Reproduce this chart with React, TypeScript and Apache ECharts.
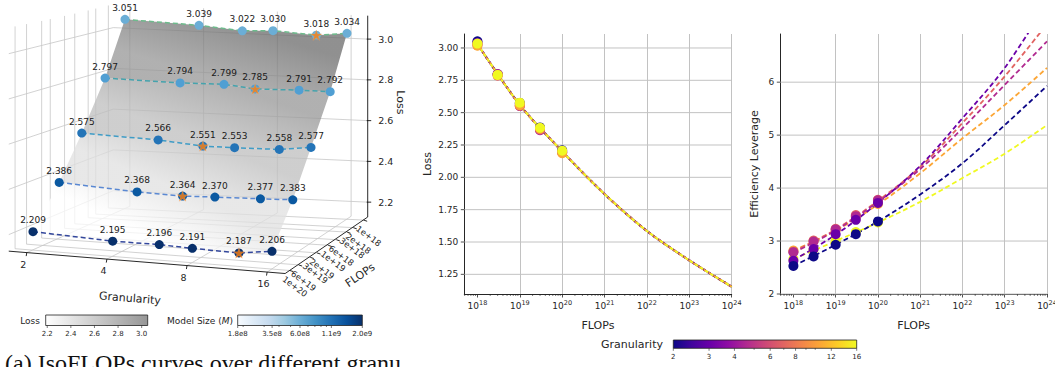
import React, { useEffect, useRef } from "react";
import * as echarts from "echarts";

// ---------------- data ----------------
const granularities = [2, 4, 6, 8, 12, 16];
const flopsBudgets = [1e18, 3e18, 1e19, 3e19, 1e20];
// isoLoss[flopsIndex][granularityIndex]
const isoLoss = [
  [3.051, 3.039, 3.022, 3.03, 3.018, 3.034],
  [2.797, 2.794, 2.799, 2.785, 2.791, 2.792],
  [2.575, 2.566, 2.551, 2.553, 2.558, 2.577],
  [2.386, 2.368, 2.364, 2.37, 2.377, 2.383],
  [2.209, 2.195, 2.196, 2.191, 2.187, 2.206],
];
const granularityTicks3d = [2, 4, 8, 16];
const flopsTicks3d = [1e18, 2e18, 3e18, 6e18, 1e19, 2e19, 3e19, 6e19, 1e20];
const flopsTickLabels3d = ["1e+18", "2e+18", "3e+18", "6e+18", "1e+19", "2e+19", "3e+19", "6e+19", "1e+20"];
const lossTicks3d = [2.2, 2.4, 2.6, 2.8, 3.0];

// fitted curves (FLOPs exponent -> value)
const fitExponents = [18, 19, 20, 21, 22, 23, 24];
const lossFit = [3.03, 2.56, 2.2, 1.87, 1.585, 1.358, 1.154];
// efficiency leverage per granularity (rows follow granularities)
const leverageObserved = [
  [2.53, 2.71, 2.93, 3.13, 3.37],
  [2.63, 2.85, 3.13, 3.4, 3.72],
  [2.79, 2.99, 3.22, 3.47, 3.77],
  [2.8, 3.01, 3.23, 3.49, 3.78],
  [2.82, 3.0, 3.21, 3.46, 3.7],
  [2.66, 2.84, 3.01, 3.17, 3.35],
];
const leverageFit = [
  [2.53, 2.93, 3.37, 3.88, 4.47, 5.19, 5.93],
  [2.64, 3.12, 3.72, 4.42, 5.32, 6.27, 7.5],
  [2.78, 3.2, 3.74, 4.36, 5.13, 5.95, 6.77],
  [2.8, 3.22, 3.76, 4.4, 5.23, 6.11, 7.1],
  [2.82, 3.2, 3.69, 4.28, 4.94, 5.57, 6.27],
  [2.66, 3.0, 3.35, 3.74, 4.19, 4.65, 5.19],
];

const xTickExponents = [18, 19, 20, 21, 22, 23, 24];
const lossYTicks = [1.25, 1.5, 1.75, 2.0, 2.25, 2.5, 2.75, 3.0];
const leverageYTicks = [2, 3, 4, 5, 6];
const minorDecades = [17, 18, 19, 20, 21, 22, 23];
const minorMultipliers = [2, 3, 4, 5, 6, 7, 8, 9];

const granularityBarTicks = [2, 3, 4, 6, 8, 12, 16];
const granularityBarMinor = [5, 7, 9, 10];
const lossBarTicks = [2.2, 2.4, 2.6, 2.8, 3.0];
const modelSizeBarTicks = [1.8e8, 3.5e8, 6.0e8, 1.1e9, 2.0e9];
const modelSizeBarLabels = ["1.8e8", "3.5e8", "6.0e8", "1.1e9", "2.0e9"];
const modelSizeBarMinor = [2e8, 3e8, 4e8, 5e8, 7e8, 8e8, 9e8, 1e9];

// ---------------- styles ----------------
const FONT = "DejaVu Sans";
const TEXT = "#262626";
const AXIS = "#262626";
const GRID = "#c2c2c2";
const GRID3D = "#c6c6c6";
const granularityColors = ["#0d0887", "#6a00a8", "#b12a90", "#e16462", "#fca636", "#f0f921"];
const rowLineColors = ["#6dbb8c", "#45a3ad", "#3f9cc6", "#5a88d2", "#33479c"];
const rowMarkerColors = ["#6baed6", "#509fd3", "#2474b7", "#0b59a1", "#08306b"];
const plasmaStops = ["#0d0887", "#41049d", "#6a00a8", "#8f0da4", "#b12a90", "#cc4778", "#e16462", "#f2844b", "#fca636", "#fcce25", "#f0f921"];
const bluesStops = ["#f7fbff", "#deebf7", "#c6dbef", "#9ecae1", "#6baed6", "#4292c6", "#2171b5", "#08519c", "#08306b"];
const greyStops = ["#ffffff", "#969696"];

const X_MIN = 17.69;
const X_MAX = 24;

// ---------------- 3D projection (camera model of the left panel) ----------------
const MU = 0.075;
const MV = 0.06;
const ZMIN = 2.127;
const ZMAX = 3.115;
const uOf = (g: number) => (Math.log2(g) - 1) / 3;
const vOf = (f: number) => (20 - Math.log10(f)) / 2;
function proj(u: number, v: number, z: number): [number, number] {
  const xa = 33 + 103 * v - 11 * v * v;
  const xb = 272 + 81 * v - 6 * v * v;
  const ya = 233.7 - 39.9 * v;
  const yb = 252.65 - 48.35 * v;
  const s = 225 - 20 * v;
  return [xa + (xb - xa) * u, ya + (yb - ya) * u - (z - 2.2) * s];
}
const add = (p: [number, number], dx: number, dy: number): [number, number] => [p[0] + dx, p[1] + dy];

function surfaceColor(z: number) {
  const t = Math.max(0, Math.min(1.2, (z - 2.2) / 0.85));
  const l = Math.round(255 - t * 151);
  return `rgb(${l},${l},${l})`;
}

const P3 = { xAxisIndex: 2, yAxisIndex: 2, coordinateSystem: "cartesian2d" };

function segSeries(segs: number[][], color: string, width: number, z: number) {
  return {
    type: "custom",
    ...P3,
    silent: true,
    clip: false,
    z,
    data: segs,
    renderItem: (_p: any, api: any) => {
      const a = api.coord([api.value(0), api.value(1)]);
      const b = api.coord([api.value(2), api.value(3)]);
      return {
        type: "line",
        shape: { x1: a[0], y1: a[1], x2: b[0], y2: b[1] },
        style: { stroke: color, lineWidth: width },
      };
    },
  };
}

type TextItem = { pos: [number, number]; text: string; size: number; rotation?: number; align?: string };
function textSeries(items: TextItem[]) {
  return {
    type: "custom",
    ...P3,
    silent: true,
    clip: false,
    z: 8,
    data: items.map((it) => it.pos),
    renderItem: (params: any, api: any) => {
      const it = items[params.dataIndex];
      const p = api.coord([api.value(0), api.value(1)]);
      return {
        type: "text",
        x: p[0],
        y: p[1],
        rotation: it.rotation || 0,
        style: {
          text: it.text,
          fontSize: it.size,
          fontFamily: FONT,
          fill: TEXT,
          align: it.align || "center",
          verticalAlign: "middle",
        },
      };
    },
  };
}

function build3dSeries() {
  const U0 = -MU, U1 = 1 + MU, V0 = -MV, V1 = 1 + MV;
  const grid: number[][] = [];
  const seg = (a: [number, number], b: [number, number]) => [a[0], a[1], b[0], b[1]];
  flopsTicks3d.forEach((f) => {
    const v = vOf(f);
    grid.push(seg(proj(U0, v, ZMIN), proj(U0, v, ZMAX)));
    grid.push(seg(proj(U0, v, ZMIN), proj(U1, v, ZMIN)));
  });
  granularityTicks3d.forEach((g) => {
    const u = uOf(g);
    grid.push(seg(proj(u, V1, ZMIN), proj(u, V1, ZMAX)));
    grid.push(seg(proj(u, V0, ZMIN), proj(u, V1, ZMIN)));
  });
  lossTicks3d.forEach((z) => {
    grid.push(seg(proj(U0, V0, z), proj(U0, V1, z)));
    grid.push(seg(proj(U0, V1, z), proj(U1, V1, z)));
  });

  const axes: number[][] = [
    seg(proj(U0, V0, ZMIN), proj(U1, V0, ZMIN)),
    seg(proj(U1, V0, ZMIN), proj(U1, V1, ZMIN)),
    seg(proj(U1, V1, ZMIN), proj(U1, V1, ZMAX)),
  ];
  granularityTicks3d.forEach((g) => {
    const p = proj(uOf(g), V0, ZMIN);
    axes.push(seg(p, add(p, -0.6, 3.5)));
  });
  flopsTicks3d.forEach((f) => {
    const p = proj(U1, vOf(f), ZMIN);
    axes.push(seg(p, add(p, 3.5, 1.2)));
  });
  lossTicks3d.forEach((z) => {
    const p = proj(U1, V1, z);
    axes.push(seg(add(p, -1, 0), add(p, 3.5, 0)));
  });

  // surface bands between consecutive FLOPs rows
  const bandItems = [0, 1, 2, 3].map((r) => {
    const p = proj(uOf(granularities[0]), vOf(flopsBudgets[r]), isoLoss[r][0]);
    return [p[0], p[1], r];
  });
  const surface = {
    type: "custom",
    ...P3,
    silent: true,
    clip: false,
    z: 2,
    data: bandItems,
    renderItem: (_p: any, api: any) => {
      const r = api.value(2);
      const top = granularities.map((g, c) => api.coord(proj(uOf(g), vOf(flopsBudgets[r]), isoLoss[r][c])));
      const bot = granularities.map((g, c) => api.coord(proj(uOf(g), vOf(flopsBudgets[r + 1]), isoLoss[r + 1][c])));
      const avg = (arr: number[][], k: number) => arr.reduce((s, q) => s + q[k], 0) / arr.length;
      const lt = isoLoss[r].reduce((s, q) => s + q, 0) / isoLoss[r].length;
      const lb = isoLoss[r + 1].reduce((s, q) => s + q, 0) / isoLoss[r + 1].length;
      const grad = new echarts.graphic.LinearGradient(
        avg(top, 0), avg(top, 1), avg(bot, 0), avg(bot, 1),
        [{ offset: 0, color: surfaceColor(lt) }, { offset: 1, color: surfaceColor(lb) }],
        true
      );
      return {
        type: "polygon",
        shape: { points: [...top, ...bot.slice().reverse()] },
        style: { fill: grad, opacity: 0.75 },
      };
    },
  };

  const rowData = (r: number) =>
    granularities.map((g, c) => {
      const p = proj(uOf(g), vOf(flopsBudgets[r]), isoLoss[r][c]);
      return [p[0], p[1], isoLoss[r][c]];
    });

  const rowLines = isoLoss.map((_row, r) => ({
    type: "line",
    ...P3,
    silent: true,
    z: 3,
    data: rowData(r),
    symbol: "none",
    lineStyle: { color: rowLineColors[r], width: 1.5, type: [5, 3] },
  }));

  const rowPoints = isoLoss.map((_row, r) => ({
    type: "scatter",
    ...P3,
    silent: true,
    z: 4,
    data: rowData(r),
    symbol: "circle",
    symbolSize: 9,
    itemStyle: { color: rowMarkerColors[r], opacity: 1 },
    label: {
      show: true,
      position: "top",
      distance: 2.5,
      formatter: (p: any) => Number(p.value[2]).toFixed(3),
      fontSize: 9,
      fontFamily: FONT,
      color: "#1a1a1a",
    },
  }));

  const starData = isoLoss.map((row, r) => {
    let best = 0;
    row.forEach((l, c) => {
      if (l < row[best]) best = c;
    });
    const p = proj(uOf(granularities[best]), vOf(flopsBudgets[r]), row[best]);
    return [p[0], p[1], row[best]];
  });
  const stars = {
    type: "scatter",
    ...P3,
    silent: true,
    z: 5,
    data: starData,
    symbol:
      "path://M0,-10L2.245,-3.09L9.511,-3.09L3.633,1.18L5.878,8.09L0,3.82L-5.878,8.09L-3.633,1.18L-9.511,-3.09L-2.245,-3.09Z",
    symbolSize: [11, 10.5],
    itemStyle: { color: "#ff7f0e", borderColor: "#ffb070", borderWidth: 0.3 },
  };

  const texts: TextItem[] = [];
  granularityTicks3d.forEach((g) => {
    texts.push({ pos: add(proj(uOf(g), V0, ZMIN), -3.5, 11.5), text: String(g), size: 9.5 });
  });
  flopsTicks3d.forEach((f, i) => {
    texts.push({ pos: add(proj(U1, vOf(f), ZMIN), 5, 16), text: flopsTickLabels3d[i], size: 8.5, rotation: -0.63 });
  });
  lossTicks3d.forEach((z) => {
    texts.push({ pos: add(proj(U1, V1, z), 18, 0), text: z.toFixed(1), size: 9.5 });
  });
  texts.push({ pos: add(proj(0.5, V0, ZMIN), -17, 36), text: "Granularity", size: 11, rotation: -0.08 });
  texts.push({ pos: add(proj(U1, 0.5, ZMIN), 32, 30), text: "FLOPs", size: 11, rotation: 0.6 });
  texts.push({ pos: add(proj(U1, V1, (ZMIN + ZMAX) / 2), 33, -14), text: "Loss", size: 11, rotation: -Math.PI / 2 });

  return [
    segSeries(grid, GRID3D, 0.8, 1),
    surface,
    ...rowLines,
    ...rowPoints,
    stars,
    segSeries(axes, "#111111", 0.9, 6),
    textSeries(texts),
  ];
}

// ---------------- 2D panels helpers ----------------
function yGridSeries(idx: number, ticks: number[], fmt: (v: number) => string) {
  return {
    type: "custom",
    xAxisIndex: idx,
    yAxisIndex: idx,
    silent: true,
    clip: false,
    z: 1,
    data: ticks.map((t) => [X_MIN, t]),
    renderItem: (_p: any, api: any) => {
      const v = api.value(1);
      const a = api.coord([X_MIN, v]);
      const b = api.coord([X_MAX, v]);
      return {
        type: "group",
        children: [
          { type: "line", shape: { x1: a[0], y1: a[1], x2: b[0], y2: b[1] }, style: { stroke: GRID, lineWidth: 1 } },
          { type: "line", shape: { x1: a[0] - 3.5, y1: a[1], x2: a[0], y2: a[1] }, style: { stroke: AXIS, lineWidth: 0.8 } },
          {
            type: "text",
            x: a[0] - 6,
            y: a[1],
            style: { text: fmt(v), fontSize: 9, fontFamily: FONT, fill: TEXT, align: "right", verticalAlign: "middle" },
          },
        ],
      };
    },
  };
}

function minorTickSeries(idx: number, yMin: number) {
  const pos: number[][] = [];
  minorDecades.forEach((d) =>
    minorMultipliers.forEach((k) => {
      const x = d + Math.log10(k);
      if (x > X_MIN && x < X_MAX) pos.push([x, yMin]);
    })
  );
  return {
    type: "custom",
    xAxisIndex: idx,
    yAxisIndex: idx,
    silent: true,
    clip: false,
    z: 6,
    data: pos,
    renderItem: (_p: any, api: any) => {
      const a = api.coord([api.value(0), api.value(1)]);
      return { type: "line", shape: { x1: a[0], y1: a[1], x2: a[0], y2: a[1] + 2 }, style: { stroke: AXIS, lineWidth: 0.6 } };
    },
  };
}

function xAxisFor(gridIndex: number) {
  return {
    type: "value",
    gridIndex,
    min: X_MIN,
    max: X_MAX,
    splitNumber: 6,
    axisLine: { show: true, onZero: false, lineStyle: { color: AXIS, width: 1 } },
    axisTick: { show: true, length: 3.5, lineStyle: { color: AXIS, width: 0.8 }, customValues: xTickExponents },
    axisLabel: {
      margin: 5,
      showMinLabel: false,
      formatter: (v: number) => (Math.abs(v - Math.round(v)) < 1e-6 ? `{b|10}{s|${Math.round(v)}}` : ""),
      rich: {
        b: { fontSize: 9, fontFamily: FONT, color: TEXT },
        s: { fontSize: 6.5, fontFamily: FONT, color: TEXT, padding: [0, 0, 6, 0] },
      },
    },
    splitLine: { show: true, showMinLine: false, lineStyle: { color: GRID, width: 1 } },
    name: "FLOPs",
    nameLocation: "middle",
    nameGap: 26,
    nameTextStyle: { fontSize: 11, color: TEXT, fontFamily: FONT },
  };
}

function yAxisFor(gridIndex: number, min: number, max: number, name: string, gap: number) {
  return {
    type: "value",
    gridIndex,
    min,
    max,
    axisLine: { show: true, onZero: false, lineStyle: { color: AXIS, width: 1 } },
    axisTick: { show: false },
    axisLabel: { show: false },
    splitLine: { show: false },
    name,
    nameLocation: "middle",
    nameRotate: 90,
    nameGap: gap,
    nameTextStyle: { fontSize: 11, color: TEXT, fontFamily: FONT },
  };
}

function colorbar(
  x0: number, x1: number, y0: number, y1: number, stops: string[],
  ticks: { p: number; label?: string; minor?: boolean }[]
) {
  const els: any[] = [
    {
      type: "rect",
      shape: { x: x0, y: y0, width: x1 - x0, height: y1 - y0 },
      style: {
        fill: new echarts.graphic.LinearGradient(0, 0, 1, 0, stops.map((c, i) => ({ offset: i / (stops.length - 1), color: c }))),
        stroke: "#222",
        lineWidth: 0.8,
      },
      z: 10,
    },
  ];
  ticks.forEach((t) => {
    els.push({
      type: "line",
      shape: { x1: t.p, y1: y1, x2: t.p, y2: y1 + (t.minor ? 1.5 : 2.5) },
      style: { stroke: "#222", lineWidth: 0.6 },
      z: 10,
    });
    if (t.label)
      els.push({
        type: "text",
        x: t.p,
        y: y1 + 8.5,
        style: { text: t.label, fontSize: 7, fontFamily: FONT, fill: TEXT, align: "center", verticalAlign: "middle" },
        z: 10,
      });
  });
  return els;
}

function buildGraphics() {
  const els: any[] = [];
  // granularity colorbar
  const g0 = 673.3, g1 = 856.7;
  const gx = (g: number) => g0 + ((Math.log2(g) - 1) / 3) * (g1 - g0);
  els.push(
    ...colorbar(g0, g1, 340, 348.3, plasmaStops, [
      ...granularityBarTicks.map((g) => ({ p: gx(g), label: String(g) })),
      ...granularityBarMinor.map((g) => ({ p: gx(g), minor: true })),
    ])
  );
  els.push({
    type: "text", x: 663, y: 344, z: 10,
    style: { text: "Granularity", fontSize: 11, fontFamily: FONT, fill: TEXT, align: "right", verticalAlign: "middle" },
  });
  // loss colorbar
  const lMin = Math.min(...isoLoss.flat());
  const lMax = Math.max(...isoLoss.flat());
  const l0 = 45.7, l1 = 147.7;
  const lx = (l: number) => l0 + ((l - lMin) / (lMax - lMin)) * (l1 - l0);
  els.push(...colorbar(l0, l1, 315, 325.5, greyStops, lossBarTicks.map((l) => ({ p: lx(l), label: l.toFixed(1) }))));
  els.push({
    type: "text", x: 40, y: 321, z: 10,
    style: { text: "Loss", fontSize: 9, fontFamily: FONT, fill: TEXT, align: "right", verticalAlign: "middle" },
  });
  // model size colorbar
  const m0 = 237.7, m1 = 362.3;
  const sMin = Math.log10(modelSizeBarTicks[0]);
  const sMax = Math.log10(modelSizeBarTicks[modelSizeBarTicks.length - 1]);
  const mx = (m: number) => m0 + ((Math.log10(m) - sMin) / (sMax - sMin)) * (m1 - m0);
  els.push(
    ...colorbar(m0, m1, 315, 325.5, bluesStops, [
      ...modelSizeBarTicks.map((m, i) => ({ p: mx(m), label: modelSizeBarLabels[i] })),
      ...modelSizeBarMinor.map((m) => ({ p: mx(m), minor: true })),
    ])
  );
  els.push({
    type: "text", x: 233, y: 321, z: 10,
    style: {
      text: "{n|Model Size (}{i|M}{n|)}",
      align: "right",
      verticalAlign: "middle",
      rich: {
        n: { fontSize: 9, fontFamily: FONT, fill: TEXT, color: TEXT },
        i: { fontSize: 9, fontFamily: FONT, fontStyle: "italic", fill: TEXT, color: TEXT },
      },
    },
  });
  // caption
  els.push({
    type: "text", x: 5, y: 363, z: 10,
    style: {
      text: "(a) IsoFLOPs curves over different granu",
      fontSize: 24, fontFamily: "Liberation Serif", fill: "#111", align: "left", verticalAlign: "middle",
    },
  });
  return els;
}

function buildOption() {
  const fitData = (vals: number[]) => fitExponents.map((e, k) => [e, vals[k]]);
  const obsData = (vals: number[]) => flopsBudgets.map((f, k) => [Math.log10(f), vals[k]]);

  // middle panel: overlapping fits; yellow on top, orange and a thin navy blip in its gaps
  const middleOrder = [2, 3, 1, 0, 4, 5];
  const middleOffsets = [2.4, 3.0, 3.6, 4.2, 1.5, 0];
  const middleLines = middleOrder.map((i) => ({
    type: "line",
    xAxisIndex: 0,
    yAxisIndex: 0,
    z: 3,
    silent: true,
    data: fitData(lossFit),
    smooth: 0.3,
    symbol: "none",
    lineStyle: { color: granularityColors[i], width: 2, type: [3.5, 2.5], dashOffset: middleOffsets[i] },
  }));
  const middlePoints = granularities.map((g, i) => ({
    type: "scatter",
    xAxisIndex: 0,
    yAxisIndex: 0,
    z: 4,
    silent: true,
    data: obsData(isoLoss.map((row) => row[i])),
    symbolSize: 10,
    itemStyle: { color: granularityColors[i], opacity: 1 },
  }));
  // right panel: larger granularities drawn first, G=2 on top
  const order = granularities.map((_g, i) => i).reverse();
  const rightLines = order.map((i) => ({
    type: "line",
    xAxisIndex: 1,
    yAxisIndex: 1,
    z: 3,
    silent: true,
    data: fitData(leverageFit[i]),
    smooth: 0.35,
    symbol: "none",
    clip: true,
    lineStyle: { color: granularityColors[i], width: 1.8, type: [5, 3] },
  }));
  const rightPoints = order.map((i) => ({
    type: "scatter",
    xAxisIndex: 1,
    yAxisIndex: 1,
    z: 4,
    silent: true,
    data: obsData(leverageObserved[i]),
    symbolSize: 10,
    itemStyle: { color: granularityColors[i], opacity: 1 },
  }));

  return {
    animation: false,
    backgroundColor: "#ffffff",
    textStyle: { fontFamily: FONT },
    grid: [
      { left: 464.3, top: 34, width: 267.4, height: 260, outerBoundsMode: "none", containLabel: false },
      { left: 780.3, top: 34, width: 266.7, height: 260, outerBoundsMode: "none", containLabel: false },
      { left: 0, top: 0, width: 420, height: 367, outerBoundsMode: "none", containLabel: false },
    ],
    xAxis: [
      xAxisFor(0),
      xAxisFor(1),
      { type: "value", gridIndex: 2, min: 0, max: 420, show: false },
    ],
    yAxis: [
      yAxisFor(0, 1.098, 3.108, "Loss", 31),
      yAxisFor(1, 2, 6.91, "Efficiency Leverage", 20),
      { type: "value", gridIndex: 2, min: 0, max: 367, inverse: true, show: false },
    ],
    graphic: { elements: buildGraphics() },
    series: [
      yGridSeries(0, lossYTicks, (v) => v.toFixed(2)),
      yGridSeries(1, leverageYTicks, (v) => String(Math.round(v))),
      minorTickSeries(0, 1.098),
      minorTickSeries(1, 2),
      ...middleLines,
      ...middlePoints,
      ...rightLines,
      ...rightPoints,
      ...build3dSeries(),
    ],
  };
}

export default function App() {
  const ref = useRef<HTMLDivElement>(null);
  useEffect(() => {
    if (!ref.current) return;
    const chart = echarts.init(ref.current, null, { renderer: "svg" });
    chart.setOption(buildOption() as any);
    return () => chart.dispose();
  }, []);
  return (
    <div
      ref={ref}
      style={{ position: "absolute", left: 0, top: 0, width: 1055, height: 367, background: "#ffffff" }}
    />
  );
}
